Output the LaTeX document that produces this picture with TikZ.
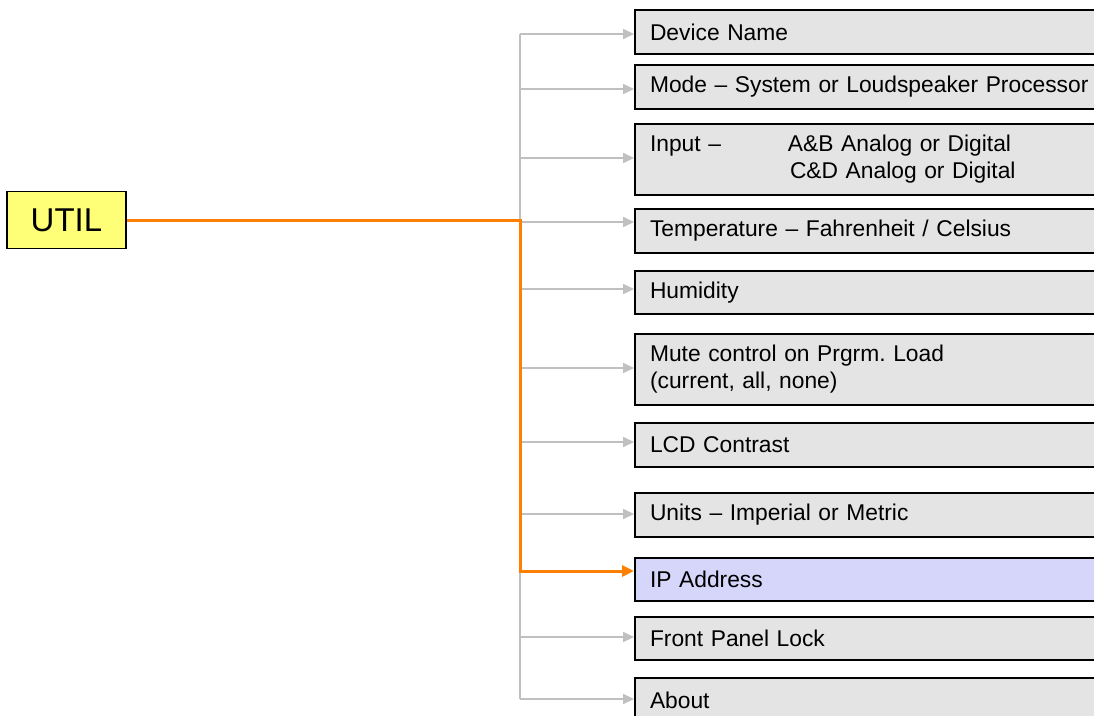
\documentclass[tikz,border=0pt]{standalone}
\usepackage{fontspec}
\setmainfont{Liberation Sans}
\usetikzlibrary{arrows.meta}
\frenchspacing
\definecolor{boxgray}{RGB}{228,228,228}
\definecolor{ipblue}{RGB}{214,214,250}
\definecolor{utilyellow}{RGB}{255,255,119}
\definecolor{linkgray}{RGB}{192,192,192}
\definecolor{hlorange}{RGB}{255,128,0}
\tikzset{
  itembox/.style={draw=black, line width=2pt, fill=boxgray, anchor=north west,
    minimum width=520pt, text width=490pt, inner xsep=15pt, inner ysep=0pt, align=left,
    font=\fontsize{22.8}{27}\selectfont},
  utilbox/.style={draw=black, line width=1.5pt, fill=utilyellow,
    minimum width=119pt, minimum height=57pt, inner sep=0pt,
    font=\fontsize{33}{36}\selectfont},
  graylink/.style={draw=linkgray, line width=2pt, -{Triangle[length=11pt,width=10pt]}},
  trunk/.style={draw=linkgray, line width=2pt},
  orangelink/.style={draw=hlorange, line width=3pt, -{Triangle[length=12pt,width=11pt]}},
}
\begin{document}
\begin{tikzpicture}[x=1pt,y=-1pt]
\useasboundingbox (0,0) rectangle (1094,715);
\clip (0,0) rectangle (1094,715);
\fill[white] (0,0) rectangle (1094,715);

\node[utilbox] (util) at (66.5,220) {UTIL};

\node[itembox, minimum height=44pt] (b1) at (634,9) {Device Name};
\node[itembox, minimum height=44pt] (b2) at (634,64) {Mode -- System or Loudspeaker Processor};
\node[itembox, minimum height=71pt] (b3) at (634,123) {\makebox[138pt][l]{Input --}A\&B Analog or Digital\\\hspace*{140pt}C\&D Analog or Digital};
\node[itembox, minimum height=44pt] (b4) at (634,208) {Temperature -- Fahrenheit / Celsius};
\node[itembox, minimum height=43pt] (b5) at (634,270) {Humidity};
\node[itembox, minimum height=71pt] (b6) at (634,333) {Mute control on Prgrm. Load\\(current, all, none)};
\node[itembox, minimum height=44pt] (b7) at (634,422) {LCD Contrast};
\node[itembox, minimum height=44pt] (b8) at (634,492) {Units -- Imperial or Metric};
\node[itembox, minimum height=43pt, fill=ipblue] (b9) at (634,557) {IP Address};
\node[itembox, minimum height=43pt] (b10) at (634,616) {Front Panel Lock};
\node[itembox, minimum height=44pt] (b11) at (634,677) {About};

\coordinate (j1) at (520,34);
\coordinate (j2) at (520,89);
\coordinate (j3) at (520,158);
\coordinate (j4) at (520,222);
\coordinate (j5) at (520,289);
\coordinate (j6) at (520,368);
\coordinate (j7) at (520,442);
\coordinate (j8) at (520,514);
\coordinate (j9) at (520,571);
\coordinate (j10) at (520,637);
\coordinate (j11) at (520,699);

\draw[trunk] (j1) -- (j11);
\foreach \i in {1,2,3,4,5,6,7,8,10,11}{
  \draw[graylink] (j\i) -- (j\i -| b\i.west);
}
\draw[orangelink] (util.east) -| (j9) -- (j9 -| b9.west);
\end{tikzpicture}
\end{document}
